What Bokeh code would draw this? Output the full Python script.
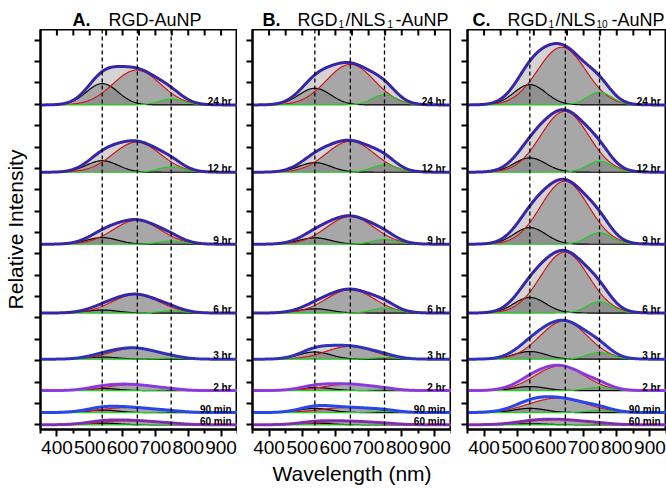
import numpy as np
from bokeh.plotting import figure
from bokeh.layouts import row, column
from bokeh.models import Range1d, FixedTicker, Span, ColumnDataSource
from bokeh.embed import file_html
from bokeh.resources import INLINE
from bokeh.core.properties import value

# ---------------- data ----------------
row_labels = ["24 hr", "12 hr", "9 hr", "6 hr", "3 hr", "2 hr", "90 min", "60 min"]
row_offsets = [14.97, 11.82, 8.45, 5.23, 3.07, 1.60, 0.57, 0.00]
marker_wavelengths = [538, 645, 748]
x_tick_values = [400, 500, 600, 700, 800, 900]
x_minor_values = [350, 450, 550, 650, 750, 850, 950]
top_tick_values = [400, 450, 500, 550, 600, 650, 700, 750, 800, 850, 900]
y_tick_values = list(range(0, 19))

# Gaussian components: black (~538 nm), red (~640 nm), green (~748 nm)
black_center = 538
green_center = 748
black_sigma = 48
green_sigma = 38
red_sigma = [72, 72, 72, 72, 72, 75, 85, 85]

a_black = [1.00, 0.54, 0.31, 0.14, 0.10, 0.10, 0.12, 0.08]
a_red = [1.63, 1.41, 1.12, 0.87, 0.52, 0.28, 0.24, 0.20]
a_green = [0.27, 0.25, 0.15, 0.10, 0.05, 0.03, 0.03, 0.02]
a_red_center = [643, 643, 643, 640, 635, 628, 620, 625]

b_black = [0.78, 0.45, 0.30, 0.20, 0.34, 0.15, 0.20, 0.08]
b_red = [1.90, 1.45, 1.30, 1.10, 0.60, 0.30, 0.24, 0.17]
b_green = [0.47, 0.35, 0.22, 0.23, 0.08, 0.04, 0.05, 0.02]
b_red_center = [645, 645, 645, 645, 643, 640, 640, 635]

c_black = [0.95, 0.67, 0.78, 0.73, 0.36, 0.19, 0.20, 0.05]
c_red = [2.70, 2.85, 2.95, 2.85, 1.78, 1.15, 0.68, 0.25]
c_green = [0.59, 0.51, 0.54, 0.53, 0.31, 0.15, 0.10, 0.03]
c_red_center = [634, 643, 643, 643, 640, 628, 622, 620]

panel_letters = ["A.", "B.", "C."]

FONT = "Liberation Sans"
wl = np.arange(350, 951, 2.0)
Y0, Y1 = -0.22, 18.5
STRIP_H = 29
PANEL_H = 495 - STRIP_H
BOTTOM = 66
FRAME_H = PANEL_H - BOTTOM
PX = (Y1 - Y0) / FRAME_H   # data units per pixel (vertical)


def gauss(x, amp, mu, sig):
    return amp * np.exp(-((x - mu) ** 2) / (2.0 * sig ** 2))


data_colors = ["#4b238f", "#4b238f", "#4b238f", "#4b238f", "#3a3aa8", "#a840e0", "#2a46e8", "#a8309a"]
fit_colors = ["#2a2ab8", "#2a2ab8", "#2a2ab8", "#2a2ab8", "#2a30c8", "#7a3ae0", "#2a46f0", "#6a30c0"]


def make_panel(blk, red, grn, red_c, width, left_border, ylabel=None, xlabel=None):
    p = figure(width=width, height=PANEL_H, x_range=Range1d(350, 950), y_range=Range1d(Y0, Y1),
               output_backend="svg", toolbar_location=None, title=None,
               min_border_left=left_border, min_border_right=0, min_border_top=0,
               min_border_bottom=BOTTOM)
    p.grid.visible = False
    p.outline_line_color = "black"
    p.outline_line_width = 2
    p.background_fill_color = "white"

    # bottom axis
    xa = p.xaxis[0]
    xa.ticker = FixedTicker(ticks=x_tick_values, minor_ticks=x_minor_values)
    xa.major_tick_out = 7
    xa.major_tick_in = 0
    xa.minor_tick_out = 4
    xa.minor_tick_in = 0
    xa.major_tick_line_width = 2
    xa.minor_tick_line_width = 2
    xa.axis_line_width = 2
    xa.major_label_text_font = FONT
    xa.major_label_text_font_size = "19px"
    xa.major_label_text_color = "black"
    xa.major_label_standoff = 4
    if xlabel:
        xa.axis_label = xlabel
        xa.axis_label_text_font = FONT
        xa.axis_label_text_font_size = "21px"
        xa.axis_label_text_font_style = "normal"
        xa.axis_label_text_color = "black"
        xa.axis_label_standoff = 5

    # left axis (ticks only)
    ya = p.yaxis[0]
    ya.ticker = FixedTicker(ticks=y_tick_values, minor_ticks=[])
    ya.major_tick_out = 6
    ya.major_tick_in = 0
    ya.major_tick_line_width = 2
    ya.axis_line_width = 2
    ya.major_label_text_font_size = "1px"
    ya.major_label_text_color = None
    ya.major_label_standoff = 0
    if ylabel:
        ya.axis_label = ylabel
        ya.axis_label_text_font = FONT
        ya.axis_label_text_font_size = "21px"
        ya.axis_label_text_font_style = "normal"
        ya.axis_label_text_color = "black"
        ya.axis_label_standoff = 8

    for i, off in enumerate(row_offsets):
        gb = gauss(wl, blk[i], black_center, black_sigma)
        gr = gauss(wl, red[i], red_c[i], red_sigma[i])
        gg = gauss(wl, grn[i], green_center, green_sigma)
        tot = gb + gr + gg
        base = np.full_like(wl, off)
        p.varea(x=wl, y1=base, y2=off + tot, fill_color="#d4d4d4")
        for comp in (gr, gb, gg):
            p.varea(x=wl, y1=base, y2=off + comp, fill_color="#7a7a7a", fill_alpha=0.5)
        p.line(wl, off + gb, line_color="black", line_width=1.2)
        p.line(wl, off + gr, line_color="#d01818", line_width=1.2)
        p.line(wl, off + gg, line_color="#22cc22", line_width=1.2)
        p.line(wl, off + tot, line_color=data_colors[i], line_width=3)
        p.line(wl, off + tot, line_color=fit_colors[i], line_width=1.6)

    for m in marker_wavelengths:
        p.add_layout(Span(location=m, dimension="height", line_color="black",
                          line_dash="4 3", line_width=1.3))

    # inward ticks along the top edge
    p.segment(x0=top_tick_values, y0=[Y1] * len(top_tick_values),
              x1=top_tick_values, y1=[Y1 - 6 * PX] * len(top_tick_values),
              line_color="black", line_width=2)

    src = ColumnDataSource(dict(x=[932] * len(row_labels),
                                y=[o + 3.5 * PX for o in row_offsets], t=row_labels))
    p.text(x="x", y="y", text="t", source=src, text_font=value(FONT), text_font_size="10px",
           text_font_style="bold", text_align="right", text_baseline="alphabetic", text_color="black")
    return p


# ---------------- title strip ----------------
tf = figure(width=666, height=STRIP_H, x_range=Range1d(0, 666), y_range=Range1d(0, STRIP_H),
            output_backend="svg", toolbar_location=None, title=None,
            x_axis_location=None, y_axis_location=None, min_border=0)
tf.grid.visible = False
tf.outline_line_color = None

TB = 10.0   # baseline of title text (px above strip bottom)
SB = 5.5    # baseline of subscripts

tf.text(x=[72, 262, 472], y=[TB] * 3, text=panel_letters, text_font=value(FONT),
        text_font_size="18px", text_font_style="bold", text_baseline="alphabetic", text_color="black")
tf.text(x=[108, 297, 345, 395, 507, 555, 611], y=[TB] * 7,
        text=["RGD-AuNP", "RGD", "/NLS", "-AuNP", "RGD", "/NLS", "-AuNP"],
        text_font=value(FONT), text_font_size="18px", text_baseline="alphabetic", text_color="black")
tf.text(x=[338, 387, 548, 596], y=[SB] * 4, text=["1", "1", "1", "10"],
        text_font=value(FONT), text_font_size="10px", text_baseline="alphabetic", text_color="black")

pa = make_panel(a_black, a_red, a_green, a_red_center, 237, 38, ylabel="Relative Intensity")
pb = make_panel(b_black, b_red, b_green, b_red_center, 214, 15, xlabel="Wavelength (nm)")
pc = make_panel(c_black, c_red, c_green, c_red_center, 215, 16)

layout = column(tf, row(pa, pb, pc, spacing=0), spacing=0)
open("out.html", "w").write(file_html(layout, INLINE))
